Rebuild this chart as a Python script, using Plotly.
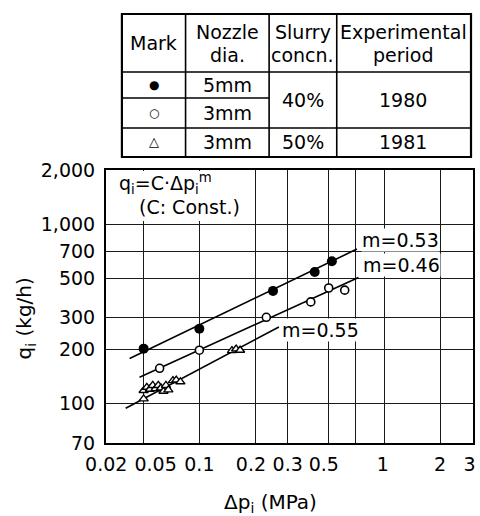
import plotly.graph_objects as go
import numpy as np

# ---------------- data ----------------
filled_x = [0.050, 0.100, 0.250, 0.420, 0.520]
filled_y = [202, 261, 424, 540, 620]

open_x = [0.061, 0.100, 0.230, 0.400, 0.500, 0.610]
open_y = [157, 198, 302, 368, 440, 428]

tri_x = [0.050, 0.050, 0.052, 0.054, 0.056, 0.058, 0.060, 0.062, 0.064, 0.066, 0.068,
         0.072, 0.075, 0.079, 0.150, 0.158, 0.166]
tri_y = [106, 118, 123, 120, 126, 121, 126, 122, 117, 126, 119,
         134, 135, 132, 197, 201, 198]

fit_filled_x = [0.042, 0.71]
fit_filled_y = [178, 725]
fit_open_x = [0.0475, 0.724]
fit_open_y = [140, 503]
fit_tri_x = [0.040, 0.269]
fit_tri_y = [94, 267]

fit_labels = ["m=0.53", "m=0.46", "m=0.55"]

# x tick labels (printed text) and where the print places them; grid lines at true values
x_ticktext = ["0.02", "0.05", "0.1", "0.2", "0.3", "0.5", "1", "2", "3"]
x_label_pos = [0.0314, 0.058, 0.1, 0.19, 0.3, 0.47, 0.98, 2, 2.88]
x_grid = [0.05, 0.1, 0.2, 0.3, 0.5, 0.7, 1, 2]

y_tickvals = [60.3, 100, 200, 300, 500, 700, 1000, 2000]
y_ticktext = ["70", "100", "200", "300", "500", "700", "1,000", "2,000"]

table_header = [["Mark"], ["Nozzle", "dia."], ["Slurry", "concn."], ["Experimental", "period"]]
table_marks = ["●", "○", "△"]
table_nozzle = ["5mm", "3mm", "3mm"]
table_conc = ["40%", "50%"]
table_period = ["1980", "1981"]

FONT = "DejaVu Sans"
FS = 19

# pixel -> paper helpers (layout only)
L, R, T, B = 106, 5, 170, 73
PW, PH = 480 - L - R, 516 - T - B
def pxx(x):
    return (x - L) / PW
def pyy(y):
    return (516 - B - y) / PH

fig = go.Figure()

line_style = dict(color="black", width=1.6)
fig.add_trace(go.Scatter(x=fit_filled_x, y=fit_filled_y, mode="lines", line=line_style, showlegend=False))
fig.add_trace(go.Scatter(x=fit_open_x, y=fit_open_y, mode="lines", line=line_style, showlegend=False))
fig.add_trace(go.Scatter(x=fit_tri_x, y=fit_tri_y, mode="lines", line=line_style, showlegend=False))

fig.add_trace(go.Scatter(x=filled_x, y=filled_y, mode="markers",
                         marker=dict(symbol="circle", size=10, color="black"), showlegend=False))
fig.add_trace(go.Scatter(x=open_x, y=open_y, mode="markers",
                         marker=dict(symbol="circle", size=8, color="white",
                                     line=dict(color="black", width=1.6)), showlegend=False))
fig.add_trace(go.Scatter(x=tri_x, y=tri_y, mode="markers",
                         marker=dict(symbol="triangle-up", size=8, color="white",
                                     line=dict(color="black", width=1.4)), showlegend=False))

shapes = []
# white box behind the formula
shapes.append(dict(type="rect", xref="paper", yref="paper",
                   x0=pxx(107), x1=pxx(254), y0=pyy(221), y1=pyy(171),
                   fillcolor="white", line=dict(width=0), layer="above"))

# table lines
tl = dict(color="black", width=1.6)
shapes.append(dict(type="rect", xref="paper", yref="paper", x0=pxx(122), x1=pxx(473),
                   y0=pyy(157), y1=pyy(14), line=dict(color="black", width=2.2)))
for yy in [72, 128]:
    shapes.append(dict(type="line", xref="paper", yref="paper", x0=pxx(122), x1=pxx(473),
                       y0=pyy(yy), y1=pyy(yy), line=tl))
shapes.append(dict(type="line", xref="paper", yref="paper", x0=pxx(122), x1=pxx(270),
                   y0=pyy(98), y1=pyy(98), line=tl))
for xx in [186, 270, 338]:
    shapes.append(dict(type="line", xref="paper", yref="paper", x0=pxx(xx), x1=pxx(xx),
                       y0=pyy(14), y1=pyy(157), line=tl))

ann = []
def txt(x, y, s, size=FS, xanchor="center", bg=None):
    d = dict(x=pxx(x), y=pyy(y), xref="paper", yref="paper", text=s, showarrow=False,
             xanchor=xanchor, yanchor="middle", font=dict(family=FONT, size=size, color="black"))
    if bg:
        d.update(bgcolor=bg, borderpad=0)
    ann.append(d)

col_x = [154, 228, 304, 405]
for cx, lines in zip(col_x, table_header):
    if len(lines) == 1:
        txt(cx, 43, lines[0])
    else:
        txt(cx, 32, lines[0])
        txt(cx, 55, lines[1])
row_y = [85, 113, 142]
for ry, m, nz in zip(row_y, table_marks, table_nozzle):
    txt(154, ry, m, size=12 if m != "△" else 13)
    txt(228, ry, nz)
txt(304, 100, table_conc[0]); txt(405, 100, table_period[0])
txt(304, 142, table_conc[1]); txt(405, 142, table_period[1])

# formula
txt(117, 183, "q<sub>i</sub>=C·Δp<sub>i</sub><sup>m</sup>", xanchor="left")
txt(137, 207, "(C: Const.)", xanchor="left")

# fit labels
txt(362, 240, fit_labels[0], xanchor="left", bg="white")
txt(363, 265, fit_labels[1], xanchor="left", bg="white")
txt(282, 330, fit_labels[2], xanchor="left", bg="white")

# axis titles
ann.append(dict(x=pxx(25), y=pyy(318), xref="paper", yref="paper", text="q<sub>i</sub> (kg/h)",
                showarrow=False, textangle=-90, xanchor="center", yanchor="middle",
                font=dict(family=FONT, size=20, color="black")))
txt(271, 503, "Δp<sub>i</sub> (MPa)", size=20)

grid_color = "#1a1a1a"
fig.update_layout(
    width=480, height=516,
    margin=dict(l=L, r=R, t=T, b=B),
    paper_bgcolor="white", plot_bgcolor="white",
    shapes=shapes, annotations=ann,
    font=dict(family=FONT, size=FS, color="black"),
    xaxis=dict(type="log", range=[np.log10(0.0313), np.log10(3.01)],
               tickvals=x_label_pos, ticktext=x_ticktext, ticks="", tickangle=0,
               ticklabeloverflow="allow",
               showgrid=False,
               minor=dict(tickvals=x_grid, showgrid=True, gridcolor=grid_color, gridwidth=1, ticks=""),
               showline=True, linecolor="black", linewidth=2, mirror=True,
               ticklabelstandoff=3, tickfont=dict(family=FONT, size=FS, color="black"),
               zeroline=False),
    yaxis=dict(type="log", range=[np.log10(60.2), np.log10(2000)],
               tickvals=y_tickvals, ticktext=y_ticktext, ticks="",
               showgrid=True, gridcolor=grid_color, gridwidth=1,
               showline=True, linecolor="black", linewidth=2, mirror=True,
               ticklabelstandoff=5, tickfont=dict(family=FONT, size=FS, color="black"),
               zeroline=False),
)

fig.write_html("out.html")
